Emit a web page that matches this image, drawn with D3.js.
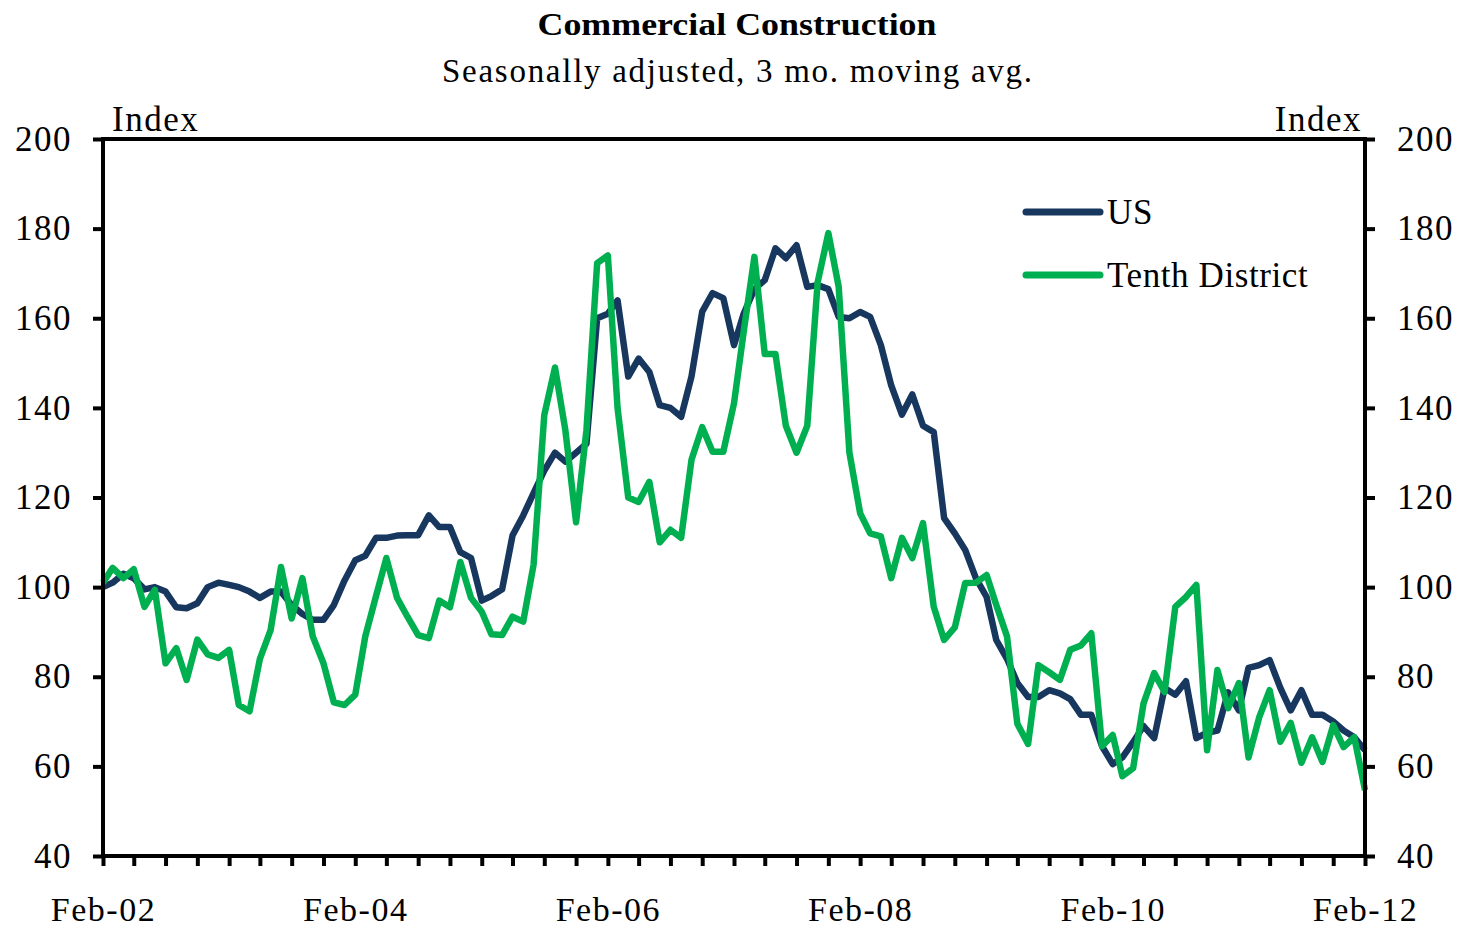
<!DOCTYPE html>
<html>
<head>
<meta charset="utf-8">
<script src="https://cdn.jsdelivr.net/npm/d3@7"></script>
<style>
  body { margin: 0; background: #fff; }
  svg { display: block; font-family: "Liberation Serif", "Times New Roman", serif; }
</style>
</head>
<body>
<div id="viz"></div>
<script>
// monthly, Feb-02 .. Feb-12
const startMonth = new Date(2002, 1, 1);

const usValues = [
  100, 101, 103, 102, 99.5, 100, 99, 95.5, 95.3, 96.4,
  100, 101, 100.5, 100, 99, 97.6, 99, 99, 96, 94,
  92.7, 92.7, 96, 101.5, 106, 107, 111, 111, 111.5, 111.6,
  111.6, 116, 113.4, 113.4, 107.8, 106.5, 97, 98, 99.5, 111.5,
  116, 121, 126, 130, 128, 130, 132, 160, 161, 164,
  147, 151, 148, 140.6, 140, 138, 147, 161.5, 165.6, 164.5,
  154, 161, 166.5, 168.5, 175.6, 173.4, 176.3, 167, 167.4, 166.5,
  160.3, 160, 161.4, 160.3, 154, 145, 138.5, 143, 136, 134.6,
  115.4, 112, 108.3, 102, 97.8, 88.2, 84, 78.6, 75.5, 75.5,
  77, 76.3, 75, 71.5, 71.5, 64.5, 60.5, 62, 65.4, 69,
  66.3, 77.5, 76, 79, 66.3, 67.5, 68, 76.5, 72.5, 82,
  82.6, 83.7, 77.5, 72.5, 77, 71.5, 71.5, 70, 68, 66.5,
  63.6
];

const tenthValues = [
  101, 104.3, 102, 104, 95.6, 99.4, 83, 86.4, 79.3, 88.3,
  85, 84.2, 86, 73.7, 72.3, 84, 90.4, 104.5, 93, 102,
  89, 83, 74.3, 73.7, 76, 89, 98, 106.5, 97.6, 93.4,
  89.3, 88.6, 97, 95.5, 105.6, 97.6, 94.5, 89.5, 89.3, 93.4,
  92.3, 105, 138.4, 149, 135, 114.5, 135, 172.3, 174, 140,
  120, 119, 123.5, 110, 112.8, 111, 128.4, 135.7, 130.2, 130.2,
  141, 157, 173.7, 152, 152, 136, 130, 136, 168, 179,
  167, 130, 116.5, 112, 111.3, 102, 111, 106.5, 114.3, 95.6,
  88.2, 91, 100.9, 101, 102.7, 96, 89, 69.5, 65, 82.6,
  81, 79.3, 86, 87, 89.7, 64.5, 67, 57.8, 59.6, 74,
  80.8, 76.6, 95.6, 97.8, 100.5, 63.6, 81.5, 73, 78.6, 62,
  71, 77, 65.5, 69.7, 60.8, 66.5, 61, 69.2, 64.3, 66.5,
  54.7
];

const seriesNames = ['US', 'Tenth District'];
const seriesColors = ['#17375E', '#00B050'];
const yTicks = [40, 60, 80, 100, 120, 140, 160, 180, 200];

const width = 1465, height = 929;
const margin = { top: 139, right: 100, bottom: 73, left: 103 };
const innerW = width - margin.left - margin.right;
const innerH = height - margin.top - margin.bottom;

const dates = usValues.map((d, i) => d3.timeMonth.offset(startMonth, i));

const x = d3.scaleTime()
  .domain([dates[0], dates[dates.length - 1]])
  .range([0, innerW]);

const y = d3.scaleLinear()
  .domain([40, 200])
  .range([innerH, 0]);

const svg = d3.select('#viz').append('svg')
  .attr('width', width)
  .attr('height', height);

// titles
svg.append('text')
  .attr('x', 737).attr('y', 35)
  .attr('text-anchor', 'middle')
  .attr('font-weight', 'bold')
  .attr('font-size', 32)
  .attr('textLength', 399).attr('lengthAdjust', 'spacingAndGlyphs')
  .text('Commercial Construction');

svg.append('text')
  .attr('x', 737).attr('y', 82)
  .attr('text-anchor', 'middle')
  .attr('font-size', 33)
  .attr('textLength', 590).attr('lengthAdjust', 'spacing')
  .text('Seasonally adjusted, 3 mo. moving avg.');

const g = svg.append('g')
  .attr('transform', `translate(${margin.left},${margin.top})`);

// lines
const line = d3.line()
  .x((d, i) => x(dates[i]))
  .y(d => y(d));

[usValues, tenthValues].forEach((vals, k) => {
  g.append('path')
    .datum(vals)
    .attr('fill', 'none')
    .attr('stroke', seriesColors[k])
    .attr('stroke-width', 6.5)
    .attr('stroke-linejoin', 'round')
    .attr('d', line);
});

// frame
g.append('rect')
  .attr('width', innerW).attr('height', innerH)
  .attr('fill', 'none')
  .attr('stroke', '#000')
  .attr('stroke-width', 4);

// axes
const styleAxis = sel => {
  sel.attr('font-family', null).attr('font-size', null);
  sel.select('.domain').remove();
  sel.selectAll('.tick line').attr('stroke', '#000').attr('stroke-width', 4);
  sel.selectAll('.tick text')
    .attr('fill', '#000')
    .attr('font-size', 35)
    .attr('letter-spacing', 1.5);
};

g.append('g')
  .call(d3.axisLeft(y).tickValues(yTicks).tickSize(10).tickPadding(21))
  .call(styleAxis);

g.append('g')
  .attr('transform', `translate(${innerW},0)`)
  .call(d3.axisRight(y).tickValues(yTicks).tickSize(10).tickPadding(22))
  .call(styleAxis);

// quarterly tick marks
g.append('g')
  .attr('transform', `translate(0,${innerH})`)
  .call(d3.axisBottom(x).tickValues(dates.filter((d, i) => i % 3 === 0)).tickSize(10).tickFormat(''))
  .call(styleAxis);

// labels every two years
g.append('g')
  .attr('transform', `translate(0,${innerH})`)
  .call(d3.axisBottom(x).tickValues(dates.filter((d, i) => i % 24 === 0))
    .tickSize(0).tickPadding(41).tickFormat(d3.timeFormat('%b-%y')))
  .call(styleAxis)
  .call(sel => sel.selectAll('.tick text').attr('font-size', 34));

// axis unit labels
svg.append('text')
  .attr('x', 112).attr('y', 131)
  .attr('font-size', 35).attr('letter-spacing', 1.5)
  .text('Index');
svg.append('text')
  .attr('x', 1362).attr('y', 131)
  .attr('text-anchor', 'end')
  .attr('font-size', 35).attr('letter-spacing', 1.5)
  .text('Index');

// legend
const legend = svg.append('g');
seriesNames.forEach((name, k) => {
  const ly = 212 + k * 63;
  legend.append('line')
    .attr('x1', 1026).attr('x2', 1100)
    .attr('y1', ly).attr('y2', ly)
    .attr('stroke', seriesColors[k])
    .attr('stroke-width', 7)
    .attr('stroke-linecap', 'round');
  legend.append('text')
    .attr('x', 1107).attr('y', ly + 12)
    .attr('font-size', 35).attr('letter-spacing', 0.6)
    .text(name);
});
</script>
</body>
</html>
